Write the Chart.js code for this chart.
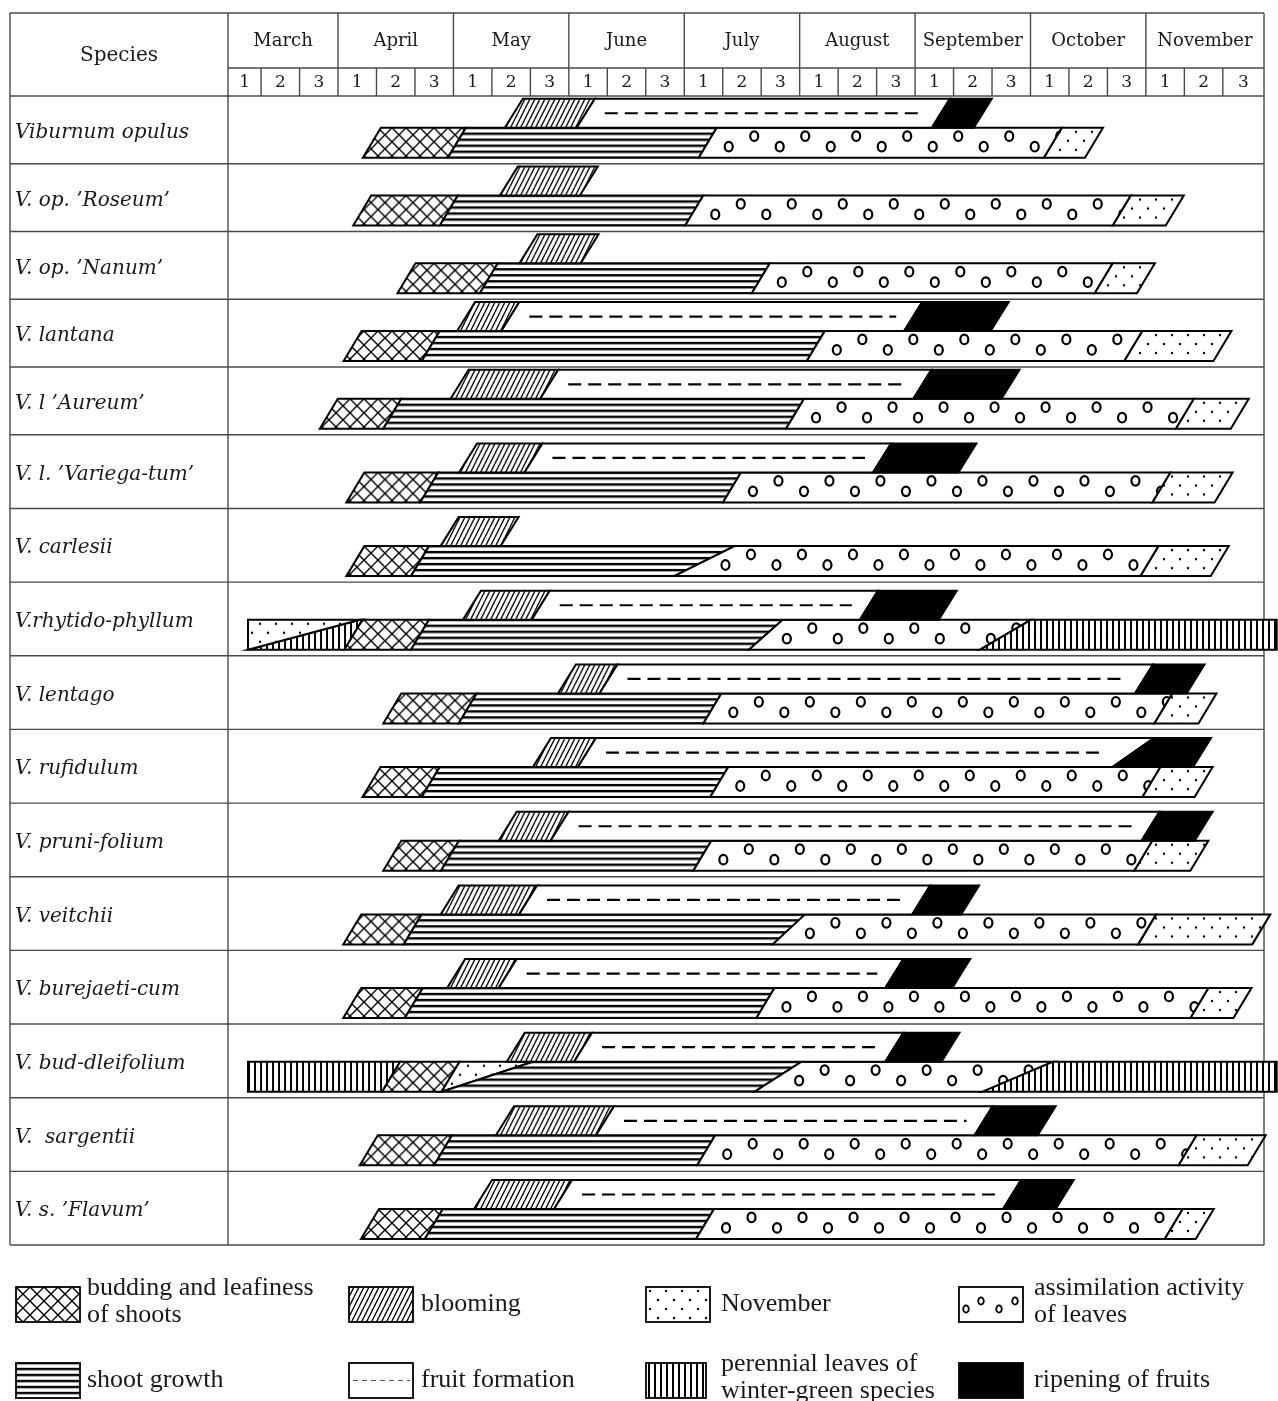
<!DOCTYPE html>
<html>
<head>
<meta charset="utf-8">
<script src="https://cdn.jsdelivr.net/npm/chart.js@4.4.1/dist/chart.umd.min.js"></script>
<style>
    html, body { margin: 0; padding: 0; background: #fff; }
    #wrap { width: 1278px; height: 1401px; }
</style>
</head>
<body>
<div id="wrap"><canvas id="pheno" width="1278" height="1401"></canvas></div>
<script>
const SPECIES = [
    "Viburnum opulus", "V. op. \u2019Roseum\u2019", "V. op. \u2019Nanum\u2019", "V. lantana",
    "V. l \u2019Aureum\u2019", "V. l. \u2019Variega-tum\u2019", "V. carlesii", "V.rhytido-phyllum",
    "V. lentago", "V. rufidulum", "V. pruni-folium", "V. veitchii",
    "V. burejaeti-cum", "V. bud-dleifolium", "V.  sargentii", "V. s. \u2019Flavum\u2019",
];
const MONTHS = ["March", "April", "May", "June", "July", "August", "September", "October", "November"];
const DECADES = ["1", "2", "3"];

// Phase limits in decades counted from the start of March.
// A number is the middle of a slanted edge, a pair is [top, bottom]
// for edges that lean more than usual.
const budding = [
    [3.88, 6.09], [3.63, 5.88], [4.78, 6.92], [3.38, 5.41], [2.76, 4.41], [3.45, 5.37], [3.45, 5.13], [3.40, 5.13],
    [4.41, 6.37], [3.87, 5.41], [4.41, 5.91], [3.37, 4.94], [3.37, 4.97], [4.38, 5.92], [3.80, 5.73], [3.83, 5.49],
];
const shootGrowth = [
    [6.09, 12.61], [5.88, 12.26], [6.92, 13.99], [5.41, 15.42], [4.41, 14.88], [5.37, 13.24], [5.13, [13.31, 11.74]], [5.13, [14.56, 13.68]],
    [6.37, 12.73], [5.41, 12.91], [5.91, 12.47], [4.94, [15.14, 14.30]], [4.97, 14.11], [[8.07, 5.69], [15.05, 13.83]], [5.73, 12.57], [5.49, 12.54],
];
const assimilation = [
    [12.61, 21.58], [12.26, 23.37], [13.99, 22.90], [15.42, 23.67], [14.88, 25.01], [13.24, 24.40], [[13.31, 11.74], 24.09], [[14.56, 13.68], [21.01, 19.68]],
    [12.73, 24.45], [12.91, 24.14], [12.47, 23.93], [[15.14, 14.30], 24.03], [14.11, 25.39], [[15.05, 13.83], [21.59, 19.76]], [12.57, 25.08], [12.54, 24.72],
];
const november = [
    [21.58, 22.65], [23.37, 24.75], [22.90, 24.00], [23.67, 25.99], [25.01, 26.44], [24.40, 26.02], [24.09, 25.92], [[0.66, 0.66], [3.57, 0.66]],
    [24.45, 25.60], [24.14, 25.50], [23.93, 25.39], [24.03, 27.00], [25.39, 26.51], [5.92, [8.07, 5.69]], [25.08, 26.88], [24.72, 25.53],
];
const winterGreenSpring = [
    null, null, null, null, null, null, null, [[3.57, 0.66], 3.40],
    null, null, null, null, null, [[0.66, 0.66], 4.38], null, null,
];
const winterGreenAutumn = [
    null, null, null, null, null, null, null, [[21.01, 19.68], [27.40, 27.40]],
    null, null, null, null, null, [[21.59, 19.76], [27.40, 27.40]], null, null,
];
const blooming = [
    [7.57, 9.44], [7.44, 9.52], [7.95, 9.54], [6.33, 7.48], [6.16, 8.49], [6.38, 8.08], [5.90, 7.46], [6.48, 8.27],
    [8.95, 10.03], [8.30, 9.47], [7.41, 8.76], [5.90, 7.94], [6.07, 7.41], [7.62, 9.37], [7.34, 9.94], [6.77, 8.85],
];
const fruitFormation = [
    [9.44, 18.67], null, null, [7.48, 17.95], [8.49, 18.19], [8.08, 17.14], null, [8.27, 16.80],
    [10.03, 23.95], [9.47, [24.21, 23.13]], [8.76, 24.12], [7.94, 18.16], [7.41, 17.46], [9.37, 17.46], [9.94, 19.78], [8.85, 20.52],
];
const ripening = [
    [18.67, 19.76], null, null, [17.95, 20.20], [18.19, 20.48], [17.14, 19.36], null, [16.80, 18.85],
    [23.95, 25.29], [[24.21, 23.13], 25.46], [24.12, 25.50], [18.16, 19.43], [17.46, 19.20], [17.46, 18.92], [19.78, 21.42], [20.52, 21.89],
];

const LEGEND = [
    { kind: "budding",   text: ["budding and leafiness", "of shoots"] },
    { kind: "blooming",  text: ["blooming"] },
    { kind: "november",  text: ["November"] },
    { kind: "assim",     text: ["assimilation activity", "of leaves"] },
    { kind: "shoot",     text: ["shoot growth"] },
    { kind: "fruit",     text: ["fruit formation"] },
    { kind: "winter",    text: ["perennial leaves of", "winter-green species"] },
    { kind: "ripening",  text: ["ripening of fruits"] },
];

// --- layout ---------------------------------------------------------------
// first five rows of the table are a bit lower than the rest
const ROW_SPAN = SPECIES.map((_, i) => (i < 5 ? 0.92 : 1));
const ROW_EDGE = ROW_SPAN.reduce((a, s) => (a.push(a[a.length - 1] + s), a), [0]);
const ROW_MID = ROW_SPAN.map((s, i) => ROW_EDGE[i] + s / 2);
const X_MIN = 0.14, X_MAX = 27.07;
const TABLE_LEFT = 10, TABLE_TOP = 13, HEAD_SPLIT = 68;
const SLANT = 18;          // px the usual edge leans over one band
const LINE = "#4a4a4a";
const INK = "#000";
const SERIF = "'DejaVu Serif', serif";

function tile(w, h, paint) {
    const c = document.createElement("canvas");
    c.width = w; c.height = h;
    const g = c.getContext("2d");
    g.fillStyle = "#fff"; g.fillRect(0, 0, w, h);
    g.strokeStyle = INK; g.fillStyle = INK;
    paint(g);
    return c;
}

const TILES = {
    budding: tile(14, 14, g => {
        g.lineWidth = 1.4;
        g.beginPath();
        g.moveTo(0, 0); g.lineTo(14, 14); g.moveTo(14, 0); g.lineTo(0, 14);
        g.stroke();
    }),
    blooming: tile(5, 10, g => {
        g.lineWidth = 1.3;
        g.beginPath();
        for (const o of [-5, 0, 5]) { g.moveTo(o, 10); g.lineTo(o + 5, 0); }
        g.stroke();
    }),
    shoot: tile(8, 6, g => g.fillRect(0, 0, 8, 2.4)),
    november: tile(16, 18, g => {
        for (const [x, y] of [[4, 4], [12, 13]]) {
            g.beginPath(); g.arc(x, y, 1.2, 0, Math.PI * 2); g.fill();
        }
    }),
    winter: tile(6, 6, g => g.fillRect(2, 0, 2, 6)),
};
const patterns = {};

function paintFor(ctx, kind, x0, y0) {
    if (kind === "ripening") return INK;
    if (kind === "assim" || kind === "fruit") return "#fff";
    if (!patterns[kind]) patterns[kind] = ctx.createPattern(TILES[kind], "repeat");
    const p = patterns[kind];
    p.setTransform(new DOMMatrix([1, 0, 0, 1, x0, kind === "shoot" ? y0 - 1.2 : y0]));
    return p;
}

function edge(v, xs) {
    if (Array.isArray(v)) return { t: xs(v[0]), b: xs(v[1]) };
    const m = xs(v);
    return { t: m + SLANT / 2, b: m - SLANT / 2 };
}

function circles(ctx, x0, x1, top, bot, r) {
    const h = bot - top;
    ctx.lineWidth = 2.2;
    ctx.strokeStyle = INK;
    let k = 0;
    for (let x = x0; x < x1; x += 25.5, k++) {
        const y = top + h * (k % 2 === 0 ? 0.63 : 0.28);
        ctx.beginPath();
        ctx.ellipse(x, y, r, r * 1.2, 0, 0, Math.PI * 2);
        ctx.stroke();
    }
}

function trace(ctx, L, R, top, bot) {
    ctx.beginPath();
    ctx.moveTo(L.t, top); ctx.lineTo(R.t, top); ctx.lineTo(R.b, bot); ctx.lineTo(L.b, bot);
    ctx.closePath();
}

function drawSeg(ctx, seg, kind, top, bot, xs) {
    if (!seg) return;
    const L = edge(seg[0], xs), R = edge(seg[1], xs);
    trace(ctx, L, R, top, bot);
    ctx.fillStyle = paintFor(ctx, kind, 0, top);
    ctx.fill();
    if (kind === "assim") {
        ctx.save();
        ctx.clip();
        circles(ctx, (L.t + L.b) / 2 + 21, Math.max(R.t, R.b), top, bot, 4);
        ctx.restore();
        trace(ctx, L, R, top, bot);
    }
    if (kind === "fruit") {
        const y = (top + bot) / 2;
        ctx.save();
        ctx.setLineDash([13, 7]);
        ctx.lineWidth = 2.2;
        ctx.strokeStyle = INK;
        ctx.beginPath();
        ctx.moveTo(L.t + 10, y); ctx.lineTo(R.b - 8, y);
        ctx.stroke();
        ctx.restore();
        trace(ctx, L, R, top, bot);
    }
    ctx.lineWidth = 2;
    ctx.strokeStyle = INK;
    ctx.lineJoin = "miter";
    ctx.stroke();
}

function hline(ctx, x0, x1, y) { ctx.beginPath(); ctx.moveTo(x0, y); ctx.lineTo(x1, y); ctx.stroke(); }
function vline(ctx, x, y0, y1) { ctx.beginPath(); ctx.moveTo(x, y0); ctx.lineTo(x, y1); ctx.stroke(); }

function drawTable(chart) {
    const { ctx, chartArea: a, scales: { x } } = chart;
    const ys = v => chart.scales.y.getPixelForValue(v);
    ctx.save();
    ctx.strokeStyle = LINE;
    ctx.lineWidth = 1.4;
    hline(ctx, TABLE_LEFT, a.right, TABLE_TOP);
    hline(ctx, a.left, a.right, HEAD_SPLIT);
    ROW_EDGE.forEach(v => hline(ctx, TABLE_LEFT, a.right, ys(v)));
    vline(ctx, TABLE_LEFT, TABLE_TOP, a.bottom);
    vline(ctx, a.left, TABLE_TOP, a.bottom);
    vline(ctx, a.right, TABLE_TOP, a.bottom);

    ctx.fillStyle = "#1a1a1a";
    ctx.textAlign = "center";
    ctx.textBaseline = "middle";
    ctx.font = "20px " + SERIF;
    ctx.fillText("Species", (TABLE_LEFT + a.left) / 2, (TABLE_TOP + a.top) / 2 + 1);
    MONTHS.forEach((m, i) => {
        const l = i === 0 ? a.left : x.getPixelForValue(i * 3);
        const r = i === MONTHS.length - 1 ? a.right : x.getPixelForValue(i * 3 + 3);
        if (i > 0) vline(ctx, l, TABLE_TOP, a.top);
        ctx.font = "18px " + SERIF;
        ctx.fillText(m, (l + r) / 2, (TABLE_TOP + HEAD_SPLIT) / 2 + 1);
        DECADES.forEach((d, j) => {
            const dl = j === 0 ? l : x.getPixelForValue(i * 3 + j);
            const dr = j === 2 ? r : x.getPixelForValue(i * 3 + j + 1);
            if (j > 0) vline(ctx, dl, HEAD_SPLIT, a.top);
            ctx.font = "17px " + SERIF;
            ctx.fillText(d, (dl + dr) / 2, (HEAD_SPLIT + a.top) / 2 + 1);
        });
    });
    ctx.restore();
}

function drawPhases(chart) {
    const { ctx } = chart;
    const xs = v => chart.scales.x.getPixelForValue(v);
    const ys = v => chart.scales.y.getPixelForValue(v);
    ctx.save();
    SPECIES.forEach((_, i) => {
        const bot = ys(ROW_EDGE[i + 1]) - 6;
        const mid = bot - 30;
        const top = mid - 29;
        drawSeg(ctx, winterGreenSpring[i], "winter", mid, bot, xs);
        drawSeg(ctx, november[i], "november", mid, bot, xs);
        drawSeg(ctx, budding[i], "budding", mid, bot, xs);
        drawSeg(ctx, shootGrowth[i], "shoot", mid, bot, xs);
        drawSeg(ctx, assimilation[i], "assim", mid, bot, xs);
        drawSeg(ctx, winterGreenAutumn[i], "winter", mid, bot, xs);
        drawSeg(ctx, blooming[i], "blooming", top, mid, xs);
        drawSeg(ctx, fruitFormation[i], "fruit", top, mid, xs);
        drawSeg(ctx, ripening[i], "ripening", top, mid, xs);
    });
    ctx.restore();
}

// legend grid: 4 columns, 2 rows under the table
const LEG_COL = [16, 349, 646, 959];
const LEG_TEXT = [87, 421, 721, 1034];
const LEG_ROW = [1287, 1363];

function drawLegend(chart) {
    const { ctx } = chart;
    ctx.save();
    LEGEND.forEach((item, n) => {
        const c = n % 4, r = Math.floor(n / 4);
        const x = LEG_COL[c], y = LEG_ROW[r];
        const w = item.kind === "winter" ? 60 : 64, h = 35;
        ctx.fillStyle = paintFor(ctx, item.kind, x, y);
        ctx.fillRect(x, y, w, h);
        if (item.kind === "assim") {
            ctx.save();
            ctx.beginPath(); ctx.rect(x, y, w, h); ctx.clip();
            ctx.lineWidth = 1.8; ctx.strokeStyle = INK;
            [[7, 22], [22, 14], [40, 22], [56, 14]].forEach(([dx, dy]) => {
                ctx.beginPath(); ctx.ellipse(x + dx, y + dy, 2.8, 3.6, 0, 0, Math.PI * 2); ctx.stroke();
            });
            ctx.restore();
        }
        if (item.kind === "fruit") {
            ctx.save();
            ctx.setLineDash([5, 4]);
            ctx.lineWidth = 1;
            ctx.strokeStyle = "#555";
            hline(ctx, x + 4, x + w - 3, y + h / 2);
            ctx.restore();
        }
        ctx.lineWidth = 1.8;
        ctx.strokeStyle = INK;
        ctx.strokeRect(x, y, w, h);

        ctx.fillStyle = "#1a1a1a";
        ctx.font = "26px 'Liberation Serif', serif";
        ctx.textAlign = "left";
        ctx.textBaseline = "alphabetic";
        if (item.text.length === 1) {
            ctx.fillText(item.text[0], LEG_TEXT[c], y + 24);
        } else {
            ctx.fillText(item.text[0], LEG_TEXT[c], y + 8);
            ctx.fillText(item.text[1], LEG_TEXT[c], y + 35);
        }
    });
    ctx.restore();
}

const phenologyPlugin = {
    id: "phenology",
    afterDraw(chart) {
        drawTable(chart);
        drawPhases(chart);
        drawLegend(chart);
    },
};

new Chart(document.getElementById("pheno"), {
    type: "scatter",
    data: { datasets: [] },
    options: {
        responsive: false,
        animation: false,
        events: [],
        layout: { padding: { left: 15, right: 14, top: 96, bottom: 156 } },
        plugins: { legend: { display: false }, tooltip: { enabled: false } },
        scales: {
            x: { type: "linear", min: X_MIN, max: X_MAX, display: false },
            y: {
                type: "linear",
                reverse: true,
                min: 0,
                max: ROW_EDGE[ROW_EDGE.length - 1],
                afterBuildTicks: s => { s.ticks = ROW_MID.map(v => ({ value: v })); },
                afterFit: s => { s.width = 213; },
                grid: { display: false },
                border: { display: false },
                ticks: {
                    autoSkip: false,
                    crossAlign: "far",
                    padding: 0,
                    labelOffset: 3,
                    color: "#1a1a1a",
                    font: { family: "DejaVu Serif", size: 20, style: "italic" },
                    callback: (v, i) => SPECIES[i],
                },
            },
        },
    },
    plugins: [phenologyPlugin],
});
</script>
</body>
</html>
